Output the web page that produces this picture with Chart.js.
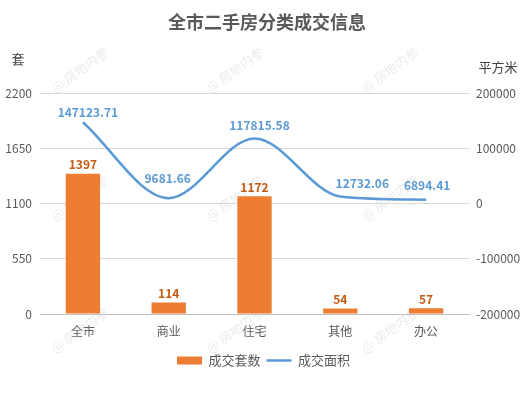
<!DOCTYPE html>
<html>
<head>
<meta charset="utf-8">
<script src="https://cdn.jsdelivr.net/npm/chart.js@4"></script>
<style>
  html, body { margin: 0; padding: 0; background: #fff; }
  #wrap { width: 527px; height: 395px; position: relative; }
</style>
</head>
<body>
<div id="wrap"><canvas id="chart" width="527" height="395"></canvas></div>
<script>
const categories = ['全市', '商业', '住宅', '其他', '办公'];
const unitsSold = [1397, 114, 1172, 54, 57];
const areaSold = [147123.71, 9681.66, 117815.58, 12732.06, 6894.41];
const leftTicks = [0, 550, 1100, 1650, 2200];
const rightTicks = [-200000, -100000, 0, 100000, 200000];

// hand-placed area labels in the original: [dx, dy] from the point
const areaLabelNudge = [[5, -10], [-1, -20], [5, -13], [22, -13], [1, -14]];

const FONT = "'Noto Sans CJK SC', 'Noto Sans', sans-serif";
const GREY = '#595959';

// titles, axis names, value labels, watermark
const extras = {
  id: 'extras',
  beforeDatasetsDraw(chart) {
    const ctx = chart.ctx;
    ctx.save();
    ctx.fillStyle = 'rgba(205,205,205,0.4)';
    ctx.font = '13px ' + FONT;
    ctx.textAlign = 'center';
    ctx.textBaseline = 'middle';
    [70, 198, 330].forEach(y => {
      [80, 235, 390].forEach(x => {
        ctx.save();
        ctx.translate(x, y);
        ctx.rotate(-Math.PI / 5);
        ctx.fillText('@ 房地内参', 0, 0);
        ctx.restore();
      });
    });
    ctx.restore();
  },
  afterDatasetsDraw(chart) {
    const ctx = chart.ctx;
    ctx.save();
    ctx.fillStyle = GREY;
    ctx.font = 'bold 18px ' + FONT;
    ctx.textAlign = 'center';
    ctx.textBaseline = 'middle';
    ctx.fillText('全市二手房分类成交信息', 267, 22);

    ctx.font = '13px ' + FONT;
    ctx.fillStyle = '#404040';
    ctx.fillText('套', 18, 59);
    ctx.fillText('平方米', 498, 67);

    ctx.font = 'bold 12px ' + FONT;
    chart.getDatasetMeta(0).data.forEach((el, i) => {
      ctx.fillStyle = '#c55a11';
      ctx.fillText(unitsSold[i], el.x, el.y - 9);
    });
    chart.getDatasetMeta(1).data.forEach((el, i) => {
      const [dx, dy] = areaLabelNudge[i];
      ctx.fillStyle = '#5b9bd5';
      ctx.fillText(areaSold[i].toFixed(2), el.x + dx, el.y + dy);
    });
    ctx.restore();
  }
};

new Chart(document.getElementById('chart').getContext('2d'), {
  data: {
    labels: categories,
    datasets: [
      {
        type: 'bar', label: '成交套数', data: unitsSold, yAxisID: 'y',
        backgroundColor: '#ed7d31', borderWidth: 0,
        barPercentage: 0.4, categoryPercentage: 1, pointStyle: 'rect', order: 2
      },
      {
        type: 'line', label: '成交面积', data: areaSold, yAxisID: 'y1',
        borderColor: '#5b9bd5', backgroundColor: '#5b9bd5', borderWidth: 2.5,
        cubicInterpolationMode: 'monotone', pointRadius: 0, pointStyle: 'line', order: 1
      }
    ]
  },
  options: {
    responsive: false,
    animation: false,
    layout: { padding: { top: 93, bottom: 18, left: 0, right: 0 } },
    plugins: {
      title: { display: false },
      tooltip: { enabled: false },
      legend: {
        position: 'bottom',
        labels: {
          usePointStyle: true, pointStyleWidth: 25, boxHeight: 8,
          color: GREY, font: { size: 13, family: FONT }, padding: 6,
          sort: (a, b) => a.datasetIndex - b.datasetIndex
        }
      }
    },
    scales: {
      x: {
        grid: { display: false },
        border: { color: '#bfbfbf' },
        ticks: { color: GREY, font: { size: 12, family: FONT }, padding: 2 },
        afterFit(s) { s.height = 34; }
      },
      y: {
        position: 'left', min: 0, max: 2200,
        afterBuildTicks(s) { s.ticks = leftTicks.map(v => ({ value: v })); },
        grid: { color: '#d9d9d9', drawTicks: false },
        border: { display: false },
        ticks: { color: GREY, font: { size: 12, family: FONT }, padding: 8, callback: v => String(v) },
        afterFit(s) { s.width = 40; }
      },
      y1: {
        position: 'right', min: -200000, max: 200000,
        afterBuildTicks(s) { s.ticks = rightTicks.map(v => ({ value: v })); },
        grid: { display: false, drawTicks: false },
        border: { display: false },
        ticks: { color: GREY, font: { size: 12, family: FONT }, padding: 7, callback: v => String(v) },
        afterFit(s) { s.width = 58; }
      }
    }
  },
  plugins: [extras]
});
</script>
</body>
</html>
